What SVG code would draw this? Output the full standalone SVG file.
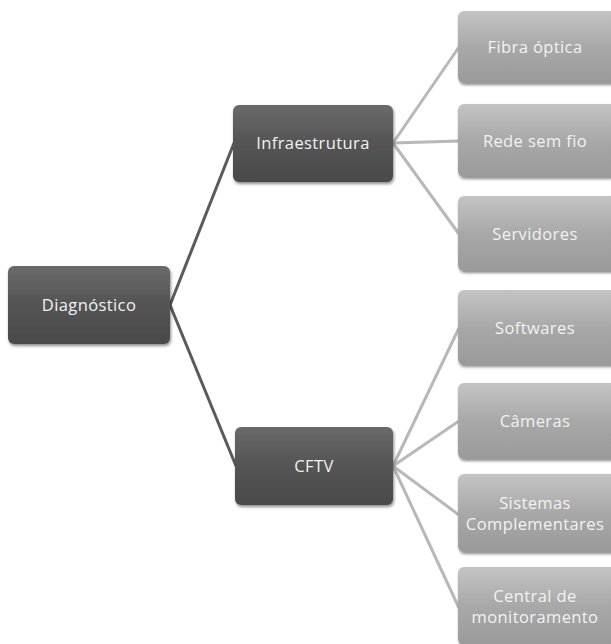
<svg xmlns="http://www.w3.org/2000/svg" width="611" height="644" viewBox="0 0 611 644">
<defs>
<linearGradient id="gd" x1="0" y1="0" x2="0" y2="1">
<stop offset="0" stop-color="#6a6a6a"/><stop offset="0.5" stop-color="#545454"/><stop offset="1" stop-color="#4a4a4a"/>
</linearGradient>
<linearGradient id="gl" x1="0" y1="0" x2="0" y2="1">
<stop offset="0" stop-color="#c4c4c4"/><stop offset="0.5" stop-color="#a8a8a8"/><stop offset="1" stop-color="#9a9a9a"/>
</linearGradient>
<filter id="sh" x="-10%" y="-10%" width="130%" height="140%">
<feDropShadow dx="1" dy="2" stdDeviation="1.5" flood-color="#000" flood-opacity="0.45"/>
</filter>
</defs>
<style>
.dk{fill:url(#gd);filter:url(#sh)}
.lt{fill:url(#gl);filter:url(#sh)}
.t{font-family:"Open Sans","Liberation Sans",sans-serif;font-size:16.5px;letter-spacing:0.4px;fill:#f2f2f2;text-anchor:middle}
.c1{stroke:#5a5a5a;stroke-width:3;fill:none}
.c2{stroke:#b8b8b8;stroke-width:3;fill:none}
</style>
<rect width="611" height="644" fill="#ffffff"/>
<g id="connectors">
<line class="c1" x1="170" y1="305" x2="234" y2="143"/>
<line class="c1" x1="170" y1="305" x2="236" y2="466"/>
<line class="c2" x1="393" y1="143" x2="459" y2="47"/>
<line class="c2" x1="393" y1="143" x2="459" y2="141"/>
<line class="c2" x1="393" y1="143" x2="459" y2="234"/>
<line class="c2" x1="393" y1="466" x2="459" y2="328"/>
<line class="c2" x1="393" y1="466" x2="459" y2="421"/>
<line class="c2" x1="393" y1="466" x2="459" y2="515"/>
<line class="c2" x1="393" y1="466" x2="459" y2="608"/>
</g>
<g id="diagnostico"><rect class="dk" x="8" y="266" width="162" height="78" rx="6"/><text class="t" x="89" y="311">Diagnóstico</text></g>
<g id="infraestrutura"><rect class="dk" x="233" y="105" width="160" height="77" rx="6"/><text class="t" x="313" y="149">Infraestrutura</text></g>
<g id="cftv"><rect class="dk" x="235" y="427" width="158" height="78" rx="6"/><text class="t" x="314" y="472">CFTV</text></g>
<g id="fibra"><rect class="lt" x="458" y="11" width="160" height="72" rx="6"/><text class="t" x="535" y="53">Fibra óptica</text></g>
<g id="rede"><rect class="lt" x="458" y="104" width="160" height="73" rx="6"/><text class="t" x="535" y="147">Rede sem fio</text></g>
<g id="servidores"><rect class="lt" x="458" y="196" width="160" height="75" rx="6"/><text class="t" x="535" y="240">Servidores</text></g>
<g id="softwares"><rect class="lt" x="458" y="290" width="160" height="75" rx="6"/><text class="t" x="535" y="334">Softwares</text></g>
<g id="cameras"><rect class="lt" x="458" y="383" width="160" height="76" rx="6"/><text class="t" x="535" y="427">Câmeras</text></g>
<g id="sistemas"><rect class="lt" x="458" y="474" width="160" height="78" rx="6"/><text class="t" x="535" y="509">Sistemas</text><text class="t" x="535" y="530">Complementares</text></g>
<g id="central"><rect class="lt" x="458" y="567" width="160" height="78" rx="6"/><text class="t" x="535" y="602">Central de</text><text class="t" x="535" y="623">monitoramento</text></g>
</svg>
